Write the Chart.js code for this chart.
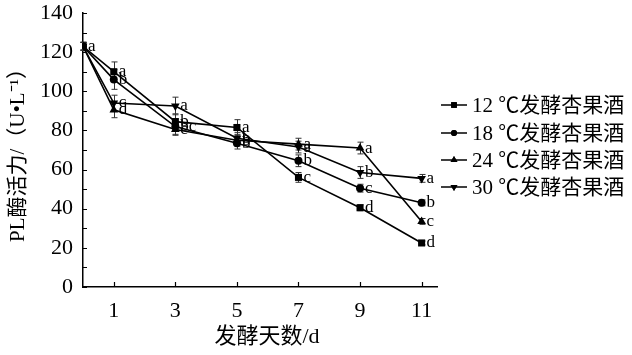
<!DOCTYPE html>
<html><head><meta charset="utf-8">
<script src="https://cdn.jsdelivr.net/npm/chart.js@4.4.0/dist/chart.umd.min.js"></script>
<style>html,body{margin:0;padding:0;background:#fff;overflow:hidden}canvas{display:block}</style>
</head><body>
<canvas id="c" width="632" height="355"></canvas>
<script>
// ---- data ----
const days = [0, 1, 3, 5, 7, 9, 11];
const xTicks = [1, 3, 5, 7, 9, 11];
const yTicks = [0, 20, 40, 60, 80, 100, 120, 140];
const yMinorTicks = [10, 30, 50, 70, 90, 110, 130];
const seriesNames = ['12 ℃发酵杏果酒', '18 ℃发酵杏果酒', '24 ℃发酵杏果酒', '30 ℃发酵杏果酒'];

const v12 = [123, 110, 84.5, 81.5, 56, 40.5, 22.5];
const v18 = [123, 106, 82, 73.5, 64.5, 50.5, 43];
const v24 = [123, 90.5, 80.5, 75, 73, 71, 33.5];
const v30 = [123, 94, 92.5, 76, 71.5, 58.5, 55.5];

const e12 = [2, 5, 4, 4, 2.5, 1.5, 1];
const e18 = [2, 5, 4, 3, 3, 2, 1.5];
const e24 = [2, 4, 3, 3, 3, 3, 1.5];
const e30 = [2, 4, 4.5, 3, 3, 3, 2];

const l12 = ['a', 'a', 'b', 'a', 'c', 'd', 'd'];
const l18 = ['', 'b', 'bc', 'b', 'b', 'c', 'b'];
const l24 = ['', 'd', 'c', 'b', 'a', 'a', 'c'];
const l30 = ['', 'c', 'a', 'b', 'a', 'b', 'a'];

const yTitle = 'PL酶活力/（U•L⁻¹）';
const xTitle = '发酵天数/d';

// ---- build ----
const SERIF = '"Liberation Serif", "Noto Sans CJK SC", serif';
const values = [v12, v18, v24, v30];
const errs = [e12, e18, e24, e30];
const letters = [l12, l18, l24, l30];
const styles = [
  {pointStyle: 'rect', radius: 5, rotation: 0},
  {pointStyle: 'circle', radius: 4, rotation: 0},
  {pointStyle: 'triangle', radius: 5, rotation: 0},
  {pointStyle: 'triangle', radius: 5, rotation: 180}
];

const datasets = values.map((vals, i) => ({
  label: seriesNames[i],
  data: vals.map((v, j) => ({x: days[j], y: v})),
  borderColor: '#000',
  backgroundColor: '#000',
  borderWidth: 1.6,
  pointStyle: styles[i].pointStyle,
  pointRadius: styles[i].radius,
  pointRotation: styles[i].rotation,
  pointBorderWidth: 0,
  pointBackgroundColor: '#000',
  tension: 0
}));

const extras = {
  id: 'extras',
  beforeDatasetsDraw(chart) {
    const {ctx, scales: {x, y}} = chart;
    ctx.save();
    ctx.strokeStyle = '#333';
    ctx.lineWidth = 1;
    values.forEach((vals, i) => {
      vals.forEach((v, j) => {
        const px = Math.round(x.getPixelForValue(days[j])) + 0.5;
        const top = y.getPixelForValue(v + errs[i][j]);
        const bot = y.getPixelForValue(v - errs[i][j]);
        ctx.beginPath();
        ctx.moveTo(px, top); ctx.lineTo(px, bot);
        ctx.moveTo(px - 3, top); ctx.lineTo(px + 3, top);
        ctx.moveTo(px - 3, bot); ctx.lineTo(px + 3, bot);
        ctx.stroke();
      });
    });
    // inward ticks
    ctx.strokeStyle = '#000';
    ctx.lineWidth = 1.2;
    const ax = x.left, ay = y.bottom;
    ctx.beginPath();
    yTicks.concat(yMinorTicks).forEach(t => {
      const py = Math.round(y.getPixelForValue(t)) + 0.5;
      ctx.moveTo(ax, py); ctx.lineTo(ax + 4, py);
    });
    xTicks.forEach(t => {
      const px = Math.round(x.getPixelForValue(t)) + 0.5;
      ctx.moveTo(px, ay); ctx.lineTo(px, ay - 5);
    });
    ctx.stroke();
    ctx.restore();
  },
  afterDatasetsDraw(chart) {
    const {ctx, scales: {x, y}} = chart;
    ctx.save();
    ctx.fillStyle = '#000';
    ctx.font = '17px ' + SERIF;
    ctx.textBaseline = 'middle';
    ctx.textAlign = 'left';
    letters.forEach((ls, i) => {
      ls.forEach((t, j) => {
        if (!t) return;
        ctx.fillText(t, x.getPixelForValue(days[j]) + 5, y.getPixelForValue(values[i][j]));
      });
    });
    // legend
    const ly = [105, 133, 160, 187];
    ctx.font = '21px ' + SERIF;
    seriesNames.forEach((name, i) => {
      ctx.strokeStyle = '#000';
      ctx.lineWidth = 1.5;
      ctx.beginPath();
      ctx.moveTo(441, ly[i]); ctx.lineTo(467, ly[i]);
      ctx.stroke();
      Chart.helpers.drawPoint(ctx, {
        pointStyle: styles[i].pointStyle,
        radius: styles[i].radius - 1,
        rotation: styles[i].rotation,
        borderWidth: 0
      }, 454, ly[i]);
      ctx.fillStyle = '#000';
      ctx.fill();
      ctx.fillText(name, 472, ly[i] + 1);
    });
    // x axis title
    ctx.font = '22px ' + SERIF;
    ctx.textAlign = 'center';
    ctx.fillText(xTitle, 267, 337);
    ctx.restore();
  }
};

new Chart(document.getElementById('c'), {
  type: 'line',
  data: {datasets},
  options: {
    responsive: false,
    animation: false,
    devicePixelRatio: 1,
    layout: {padding: {left: 0, top: 13, right: 195, bottom: 0}},
    plugins: {legend: {display: false}, tooltip: {enabled: false}},
    scales: {
      x: {
        type: 'linear',
        min: 0, max: 11.5,
        afterBuildTicks: s => { s.ticks = xTicks.map(v => ({value: v})); },
        afterFit: s => { s.height = 68; s.paddingLeft = 0; s.paddingRight = 0; },
        grid: {display: false, drawTicks: false},
        border: {display: true, color: '#000', width: 1.5},
        ticks: {color: '#000', font: {family: SERIF, size: 22}, padding: 11, maxRotation: 0, autoSkip: false},
        title: {display: false}
      },
      y: {
        min: 0, max: 140,
        afterBuildTicks: s => { s.ticks = yTicks.map(v => ({value: v})); },
        afterFit: s => { s.width = 83; s.paddingTop = 0; s.paddingBottom = 0; },
        grid: {display: false, drawTicks: false},
        border: {display: true, color: '#000', width: 1.5},
        ticks: {color: '#000', font: {family: SERIF, size: 22}, padding: 10},
        title: {display: true, text: yTitle, color: '#000', font: {family: SERIF, size: 21}, padding: {top: 6, bottom: 0}}
      }
    }
  },
  plugins: [extras]
});
</script>
</body></html>
